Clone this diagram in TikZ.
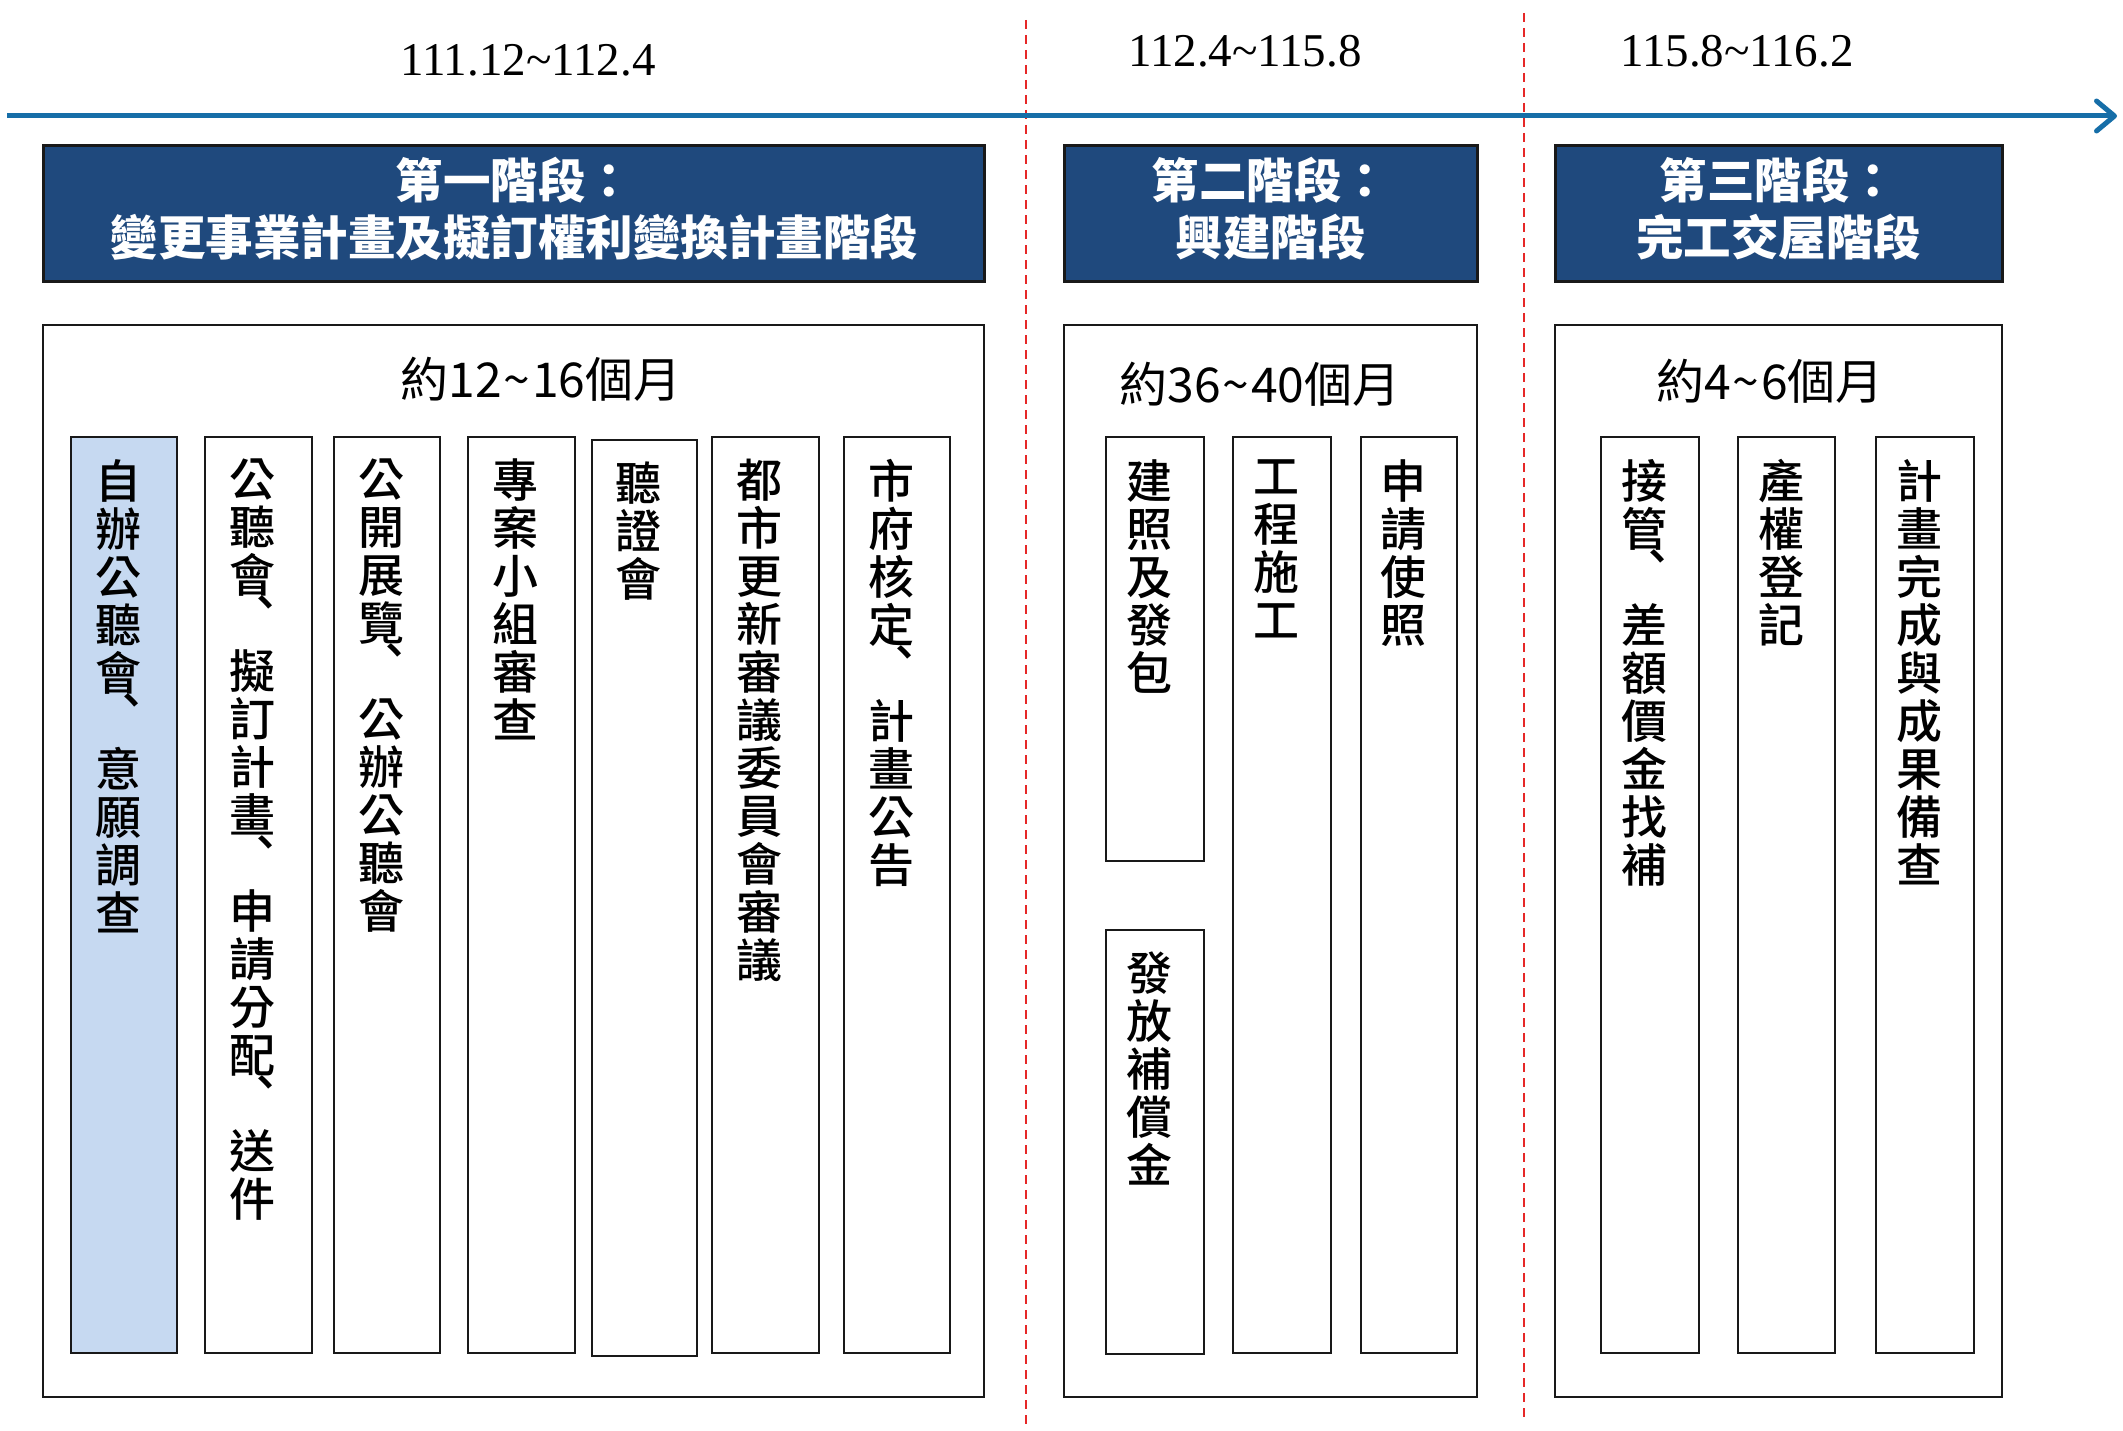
\documentclass[tikz,border=0pt]{standalone}
\usepackage{fontspec}
\setmainfont{Liberation Serif}
\newfontfamily\cjk{Noto Sans CJK TC}
\newfontfamily\cjkm{Noto Sans CJK TC Medium}
\usetikzlibrary{arrows.meta}
\definecolor{navy}{RGB}{31,73,125}
\definecolor{lightblue}{RGB}{198,217,241}
\definecolor{tline}{RGB}{22,110,168}
\definecolor{divred}{RGB}{230,40,40}
\makeatletter
\newcommand\vstack[1]{\vbox{\baselineskip=48bp\lineskiplimit=-100bp\lineskip=0bp\vst@ck#1\relax}}
\def\vst@comma{、}
\def\vst@ck#1{\ifx\relax#1\else
  \def\vst@cur{#1}%
  \ifx\vst@cur\vst@comma
    \hbox to 50bp{\hss\raisebox{21bp}[0pt][0pt]{\kern26bp #1}\hss}%
  \else
    \hbox to 50bp{\hss#1\hss}%
  \fi
  \expandafter\vst@ck\fi}
\makeatother
\newcommand\tl{\kern2bp\textasciitilde\kern2bp}
\tikzset{
  header/.style={draw=black!90, line width=3bp, fill=navy, text=white, inner sep=0pt,
    align=center, font=\cjk\bfseries\fontsize{47.5bp}{57bp}\selectfont},
  bigbox/.style={draw=black!90, line width=2bp, fill=white, inner sep=0pt, anchor=north west},
  colbox/.style={draw=black!90, line width=2bp, fill=white, inner sep=0pt, anchor=north west},
  vtext/.style={inner sep=0pt, anchor=north, font=\cjkm\fontsize{46bp}{48bp}\selectfont},
  dur/.style={inner sep=0pt, font=\cjk\fontsize{48bp}{50bp}\selectfont},
  date/.style={inner sep=0pt, font=\fontsize{47bp}{50bp}\selectfont},
  divider/.style={draw=divred, line width=2bp, dash pattern=on 9bp off 6bp},
  timeline/.style={draw=tline, line width=5bp,
    -{Straight Barb[length=18bp,width=30bp,line cap=round,line join=round]}}
}
\begin{document}
\begin{tikzpicture}[x=1bp,y=-1bp]
\useasboundingbox (0,0) rectangle (2123,1431);
% dividers
\coordinate (d1t) at (1026,20); \coordinate (d1b) at (1026,1428);
\coordinate (d2t) at (1524,13); \coordinate (d2b) at (1524,1422);
\draw[divider] (d1t) -- (d1b);
\draw[divider] (d2t) -- (d2b);
% timeline
\coordinate (ts) at (7,116); \coordinate (te) at (2117,116);
\draw[timeline] (ts) -- (te);
% dates
\node[date] (dt1) at (528,60) {111.12\textasciitilde112.4};
\node[date] (dt2) at (1245,51) {112.4\textasciitilde115.8};
\node[date] (dt3) at (1737,51) {115.8\textasciitilde116.2};
% headers (boxes, then text)
\node[header, anchor=north west, minimum width=945, minimum height=137] (h1) at (42,144) {};
\node[header, anchor=north west, minimum width=415, minimum height=137] (h2) at (1063,144) {};
\node[header, anchor=north west, minimum width=449, minimum height=137] (h3) at (1554,144) {};
\node[header, draw=none, fill=none] (h1t) at (514.5,209) {第一階段：\\變更事業計畫及擬訂權利變換計畫階段};
\node[header, draw=none, fill=none] (h2t) at (1270.5,209) {第二階段：\\興建階段};
\node[header, draw=none, fill=none] (h3t) at (1778.5,209) {第三階段：\\完工交屋階段};
% big boxes
\node[bigbox, minimum width=945, minimum height=1076] (b1) at (42,324) {};
\node[bigbox, minimum width=415, minimum height=1076] (b2) at (1063,324) {};
\node[bigbox, minimum width=449, minimum height=1076] (b3) at (1554,324) {};
% durations
\node[dur] (u1) at (541,379) {約12\tl16個月};
\node[dur] (u2) at (1260,384) {約36\tl40個月};
\node[dur] (u3) at (1770,381) {約4\tl6個月};
% phase 1 columns
\node[colbox, fill=lightblue, minimum width=106, minimum height=919] (c1) at (70,436) {};
\node[colbox, minimum width=107, minimum height=919] (c2) at (204,436) {};
\node[colbox, minimum width=106, minimum height=919] (c3) at (333,436) {};
\node[colbox, minimum width=107, minimum height=919] (c4) at (467,436) {};
\node[colbox, minimum width=105, minimum height=919] (c5) at (591,439) {};
\node[colbox, minimum width=107, minimum height=919] (c6) at (711,436) {};
\node[colbox, minimum width=106, minimum height=919] (c7) at (843,436) {};
\node[vtext] (t1) at (118,459) {\vstack{自辦公聽會、意願調查}};
\node[vtext] (t2) at (252,459) {\vstack{公聽會、擬訂計畫、申請分配、送件}};
\node[vtext] (t3) at (381,459) {\vstack{公開展覽、公辦公聽會}};
\node[vtext] (t4) at (515,459) {\vstack{專案小組審查}};
\node[vtext] (t5) at (638,462) {\vstack{聽證會}};
\node[vtext] (t6) at (759,459) {\vstack{都市更新審議委員會審議}};
\node[vtext] (t7) at (891,459) {\vstack{市府核定、計畫公告}};
% phase 2 columns
\node[colbox, minimum width=98, minimum height=426] (e1) at (1105,436) {};
\node[colbox, minimum width=98, minimum height=426] (e2) at (1105,929) {};
\node[colbox, minimum width=98, minimum height=919] (e3) at (1232,436) {};
\node[colbox, minimum width=96, minimum height=919] (e4) at (1360,436) {};
\node[vtext] (s1) at (1149,459) {\vstack{建照及發包}};
\node[vtext] (s2) at (1149,952) {\vstack{發放補償金}};
\node[vtext] (s3) at (1276,459) {\vstack{工程施工}};
\node[vtext] (s4) at (1403,459) {\vstack{申請使照}};
% phase 3 columns
\node[colbox, minimum width=98, minimum height=919] (f1) at (1600,436) {};
\node[colbox, minimum width=97, minimum height=919] (f2) at (1737,436) {};
\node[colbox, minimum width=98, minimum height=919] (f3) at (1875,436) {};
\node[vtext] (r1) at (1644,459) {\vstack{接管、差額價金找補}};
\node[vtext] (r2) at (1781,459) {\vstack{產權登記}};
\node[vtext] (r3) at (1919,459) {\vstack{計畫完成與成果備查}};
\end{tikzpicture}
\end{document}
